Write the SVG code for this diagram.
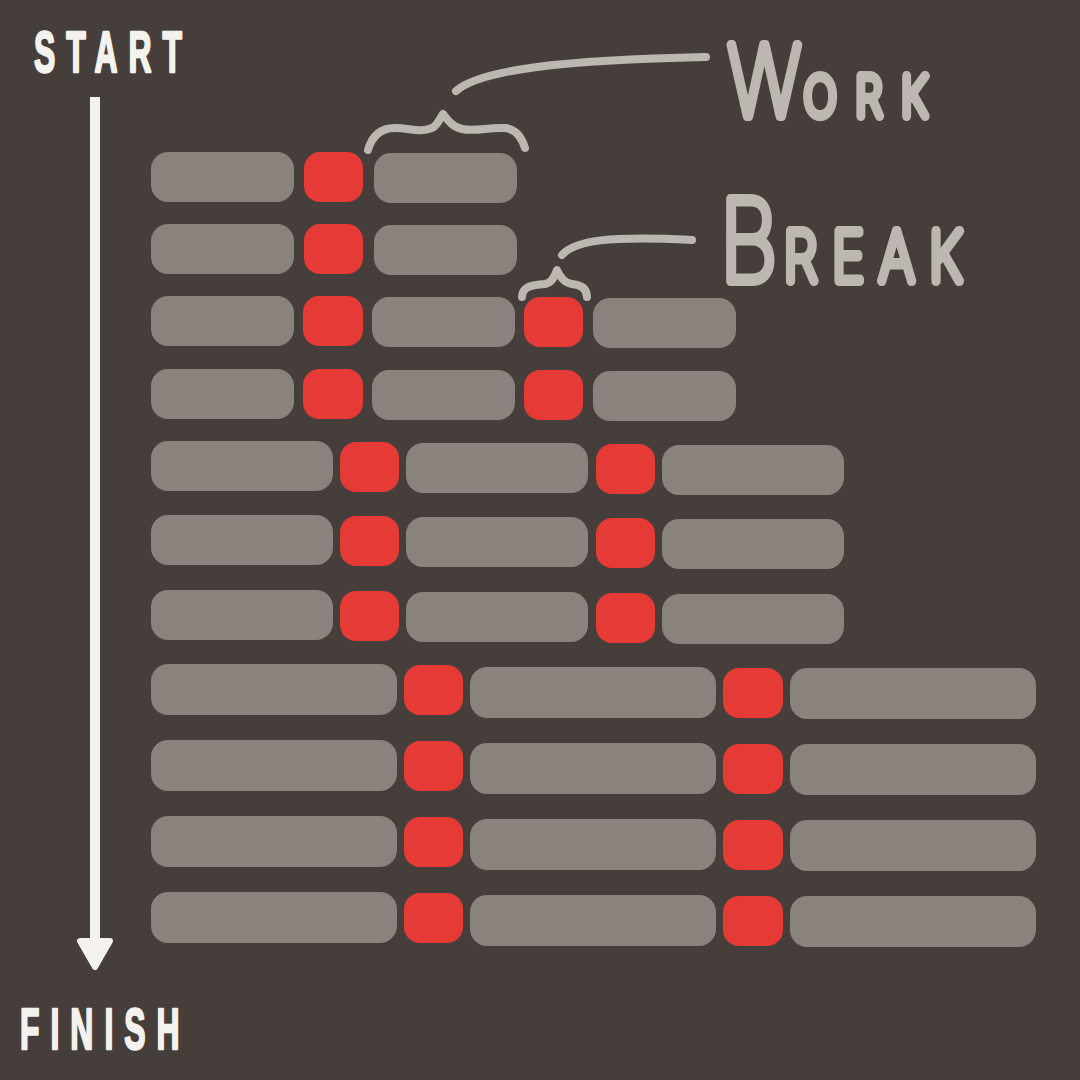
<svg xmlns="http://www.w3.org/2000/svg" width="1080" height="1080" viewBox="0 0 1080 1080">
<style>
.w{fill:#8a827d}
.b{fill:#e53a36}
.lbl{font-family:"Liberation Sans",Arial,sans-serif;font-weight:bold;font-size:58px;fill:#f4f2ee;stroke:#f4f2ee;stroke-width:2.5;stroke-linejoin:round;letter-spacing:20px}
.hand{font-family:Inter,Lato,Roboto,"DejaVu Sans",sans-serif;font-weight:100;fill:#bcb7b0;stroke:#bcb7b0;stroke-width:10;stroke-linejoin:round;stroke-linecap:round}
.ann{fill:none;stroke:#bcb7b0;stroke-width:8;stroke-linecap:round;stroke-linejoin:round}
</style>
<rect width="1080" height="1080" fill="#463e3a"/>
<g id="start"><text class="lbl" transform="translate(34,72) scale(0.55,1)" x="0" y="0">START</text></g>
<g id="finish"><text class="lbl" transform="translate(20,1049) scale(0.55,1)" x="0" y="0">FINISH</text></g>
<g id="work-label"><text class="hand" transform="translate(728,116) scale(0.8,1)" x="0" y="0"><tspan font-size="98" letter-spacing="4">W</tspan><tspan font-size="54" letter-spacing="24">ORK</tspan></text></g>
<g id="break-label"><text class="hand" transform="translate(720,281) scale(0.8,1)" x="0" y="0"><tspan font-size="112" letter-spacing="8">B</tspan><tspan font-size="68" letter-spacing="19">REAK</tspan></text></g>
<g id="row1"><rect class="w" x="151" y="152" width="143" height="50" rx="17"/><rect class="b" x="304" y="152" width="59" height="50" rx="16"/><rect class="w" x="374" y="153" width="143" height="50" rx="17"/></g>
<g id="row2"><rect class="w" x="151" y="224" width="143" height="50" rx="17"/><rect class="b" x="304" y="224" width="59" height="50" rx="16"/><rect class="w" x="374" y="225" width="143" height="50" rx="17"/></g>
<g id="row3"><rect class="w" x="151" y="296" width="143" height="50" rx="17"/><rect class="b" x="303" y="296" width="60" height="50" rx="16"/><rect class="w" x="372" y="297" width="143" height="50" rx="17"/><rect class="b" x="524" y="297" width="59" height="50" rx="16"/><rect class="w" x="593" y="298" width="143" height="50" rx="17"/></g>
<g id="row4"><rect class="w" x="151" y="369" width="143" height="50" rx="17"/><rect class="b" x="303" y="369" width="60" height="50" rx="16"/><rect class="w" x="372" y="370" width="143" height="50" rx="17"/><rect class="b" x="524" y="370" width="59" height="50" rx="16"/><rect class="w" x="593" y="371" width="143" height="50" rx="17"/></g>
<g id="row5"><rect class="w" x="151" y="441" width="182" height="50" rx="17"/><rect class="b" x="340" y="442" width="59" height="50" rx="16"/><rect class="w" x="406" y="443" width="182" height="50" rx="17"/><rect class="b" x="596" y="444" width="59" height="50" rx="16"/><rect class="w" x="662" y="445" width="182" height="50" rx="17"/></g>
<g id="row6"><rect class="w" x="151" y="515" width="182" height="50" rx="17"/><rect class="b" x="340" y="516" width="59" height="50" rx="16"/><rect class="w" x="406" y="517" width="182" height="50" rx="17"/><rect class="b" x="596" y="518" width="59" height="50" rx="16"/><rect class="w" x="662" y="519" width="182" height="50" rx="17"/></g>
<g id="row7"><rect class="w" x="151" y="590" width="182" height="50" rx="17"/><rect class="b" x="340" y="591" width="59" height="50" rx="16"/><rect class="w" x="406" y="592" width="182" height="50" rx="17"/><rect class="b" x="596" y="593" width="59" height="50" rx="16"/><rect class="w" x="662" y="594" width="182" height="50" rx="17"/></g>
<g id="row8"><rect class="w" x="151" y="664" width="246" height="51" rx="17"/><rect class="b" x="404" y="665" width="59" height="50" rx="16"/><rect class="w" x="470" y="667" width="246" height="51" rx="17"/><rect class="b" x="723" y="668" width="60" height="50" rx="16"/><rect class="w" x="790" y="668" width="246" height="51" rx="17"/></g>
<g id="row9"><rect class="w" x="151" y="740" width="246" height="51" rx="17"/><rect class="b" x="404" y="741" width="59" height="50" rx="16"/><rect class="w" x="470" y="743" width="246" height="51" rx="17"/><rect class="b" x="723" y="744" width="60" height="50" rx="16"/><rect class="w" x="790" y="744" width="246" height="51" rx="17"/></g>
<g id="row10"><rect class="w" x="151" y="816" width="246" height="51" rx="17"/><rect class="b" x="404" y="817" width="59" height="50" rx="16"/><rect class="w" x="470" y="819" width="246" height="51" rx="17"/><rect class="b" x="723" y="820" width="60" height="50" rx="16"/><rect class="w" x="790" y="820" width="246" height="51" rx="17"/></g>
<g id="row11"><rect class="w" x="151" y="892" width="246" height="51" rx="17"/><rect class="b" x="404" y="893" width="59" height="50" rx="16"/><rect class="w" x="470" y="895" width="246" height="51" rx="17"/><rect class="b" x="723" y="896" width="60" height="50" rx="16"/><rect class="w" x="790" y="896" width="246" height="51" rx="17"/></g>
<g id="connectors">
<rect x="90" y="97" width="10" height="850" fill="#f4f2ee"/>
<polygon points="80,941 110,941 95,967" fill="#f4f2ee" stroke="#f4f2ee" stroke-width="6" stroke-linejoin="round"/>
<path class="ann" d="M368,150 C372,136 380,128 395,128 C410,128 420,133 432,128 C438,125 440,118 443,114 C447,119 452,127 462,129 C476,132 488,127 505,128 C516,129 522,138 525,148"/>
<path class="ann" d="M456,91 C480,70 560,60 706,57"/>
<path class="ann" d="M522,297 C522,286 533,285 545,284 C552,283 555,276 557,270 C560,277 564,283 572,284 C583,285 587,290 587,297"/>
<path class="ann" d="M562,255 C575,240 610,236 692,240"/>
</g>
</svg>
